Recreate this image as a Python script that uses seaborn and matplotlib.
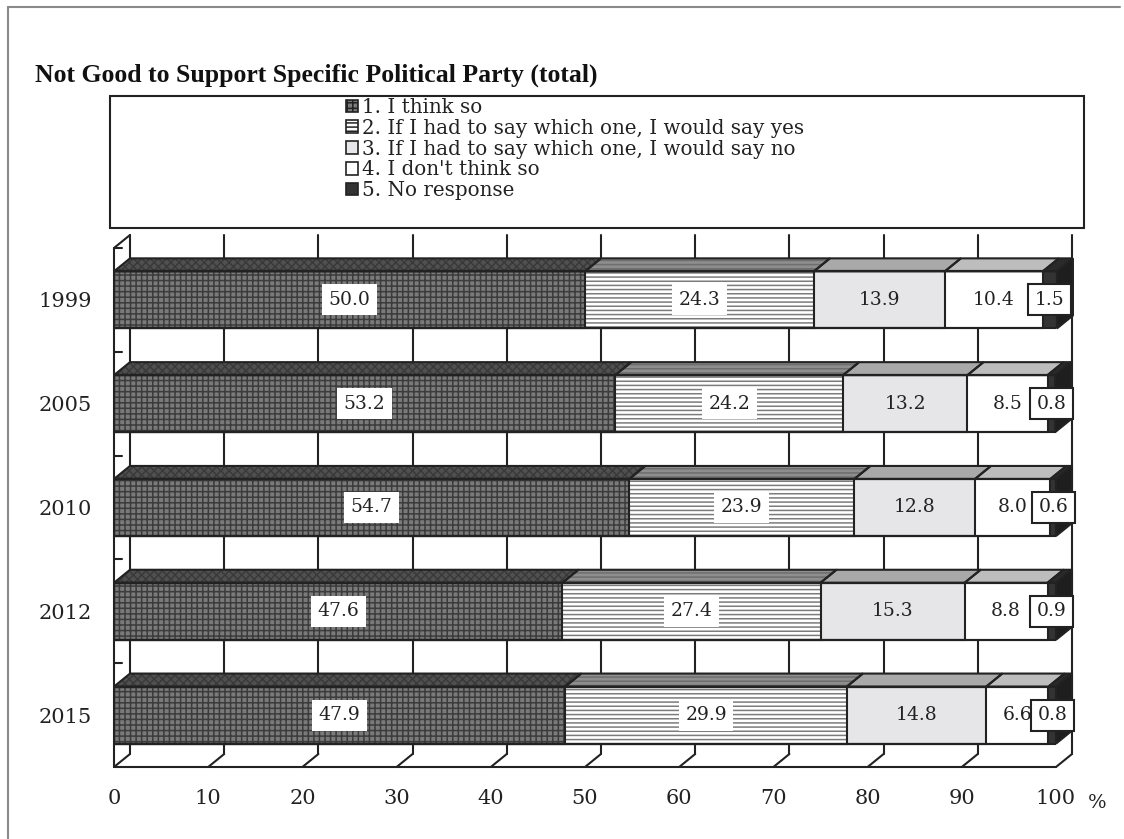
import numpy as np
import pandas as pd
import seaborn as sns
import matplotlib.pyplot as plt
from matplotlib.patches import Polygon, Rectangle, Patch
from matplotlib.lines import Line2D

# data (percent)
years = ['1999', '2005', '2010', '2012', '2015']
think_so = [50.0, 53.2, 54.7, 47.6, 47.9]
rather_yes = [24.3, 24.2, 23.9, 27.4, 29.9]
rather_no = [13.9, 13.2, 12.8, 15.3, 14.8]
dont_think = [10.4, 8.5, 8.0, 8.8, 6.6]
no_response = [1.5, 0.8, 0.6, 0.9, 0.8]
labels = ['1. I think so',
          '2. If I had to say which one, I would say yes',
          '3. If I had to say which one, I would say no',
          "4. I don't think so",
          '5. No response']
title = 'Not Good to Support Specific Political Party (total)'

sns.set_theme(style='white')
plt.rcParams['font.family'] = ['DejaVu Serif']
plt.rcParams['hatch.linewidth'] = 1.1

W, H = 1124, 839
fig = plt.figure(figsize=(W / 100, H / 100), dpi=100)
ax = fig.add_axes([114 / W, 1 - 767 / H, (1056 - 114) / W, (767 - 248) / H])

series = [think_so, rather_yes, rather_no, dont_think, no_response]
cum = np.cumsum(np.array(series), axis=0)
start = np.vstack([np.zeros(len(years)), cum[:-1]])

# front face: fill, hatch, hatch colour ; top face: fill, hatch, hatch colour
front = [('#7a7a7a', '+++', '#3c3c3c'),
         ('#ffffff', '----', '#7c7c7c'),
         ('#e6e6e8', '', '#e6e6e8'),
         ('#ffffff', '', '#ffffff'),
         ('#333333', '', '#333333')]
top = [('#505050', 'xxxx', '#3a3a3a'),
       ('#8e8e8e', '----', '#6e6e6e'),
       ('#a9a9a9', '', '#a9a9a9'),
       ('#bdbdbd', '', '#bdbdbd'),
       ('#2a2a2a', '', '#2a2a2a')]
line_c = '#222222'
bar_w = 0.55
dx, dy = 16 / 9.42, 13 / 103.8  # depth of the 3d effect in data units

# front faces, drawn as overlapping cumulative bars
for i in reversed(range(len(series))):
    d = pd.DataFrame({'year': years, 'value': cum[i]})
    fc, h, hc = front[i]
    sns.barplot(data=d, x='value', y='year', order=years, orient='h',
                color=fc, saturation=1, width=bar_w, hatch=h, edgecolor=hc,
                linewidth=0, ax=ax, zorder=2)

for p in list(ax.patches):
    ax.add_patch(Rectangle(p.get_xy(), p.get_width(), p.get_height(),
                           fill=False, ec=line_c, lw=1.5, zorder=3))

# top faces and right side
for j in range(len(years)):
    yt = j - bar_w / 2
    yb = j + bar_w / 2
    for i in range(len(series)):
        x0, x1 = start[i][j], cum[i][j]
        pts = [(x0, yt), (x1, yt), (x1 + dx, yt - dy), (x0 + dx, yt - dy)]
        fc, h, hc = top[i]
        ax.add_patch(Polygon(pts, fc=fc, hatch=h, ec=hc, lw=0, zorder=2, clip_on=False))
        ax.add_patch(Polygon(pts, fill=False, ec=line_c, lw=1.5, zorder=3, clip_on=False))
    x1 = cum[-1][j]
    side = [(x1, yt), (x1 + dx, yt - dy), (x1 + dx, yb - dy), (x1, yb)]
    ax.add_patch(Polygon(side, fc='#1e1e1e', ec=line_c, lw=1.5, zorder=3, clip_on=False))

# walls and floor
ticks = np.arange(0, 101, 10)
for t in ticks:
    ax.plot([t + dx, t + dx], [-0.5 - dy, 4.5 - dy], color=line_c, lw=1.5, zorder=1, clip_on=False)
    ax.plot([t, t + dx], [4.5, 4.5 - dy], color=line_c, lw=1.5, zorder=1, clip_on=False)
ax.plot([0, 100], [4.5, 4.5], color=line_c, lw=1.5, zorder=1, clip_on=False)
ax.plot([0, 0], [-0.5, 4.5], color=line_c, lw=1.5, zorder=1, clip_on=False)
ax.plot([0, dx], [-0.5, -0.5 - dy], color=line_c, lw=1.5, zorder=1, clip_on=False)
for k in range(len(years)):
    ax.plot([0, 0.85], [k - 0.5, k - 0.5], color=line_c, lw=1.5, zorder=1, clip_on=False)

# value labels
for j in range(len(years)):
    for i in range(len(series)):
        xc = (start[i][j] + cum[i][j]) / 2
        if i < 2:
            bb = dict(boxstyle='square,pad=0.35', fc='white', ec='none')
        elif i == 4:
            bb = dict(boxstyle='square,pad=0.35', fc='white', ec=line_c, lw=1.5)
        else:
            bb = None
        ax.text(xc, j, f'{series[i][j]:.1f}', ha='center', va='center',
                fontsize=13.5, color='#222222', bbox=bb, zorder=6, clip_on=False)

ax.set_xlim(0, 100)
ax.set_ylim(4.5, -0.5)
ax.set_xticks(ticks)
ax.set_xticklabels([str(t) for t in ticks])
ax.set_xlabel('')
ax.set_ylabel('')
ax.tick_params(axis='both', length=0, labelsize=15, colors='#222222')
ax.tick_params(axis='x', pad=16)
ax.tick_params(axis='y', pad=16)
for s in ax.spines.values():
    s.set_visible(False)
ax.set_facecolor('none')

fig.text(1097 / W, 1 - 803 / H, '%', fontsize=14, ha='center', va='center', color='#222222')

# legend box
fig.patches.append(Rectangle((110 / W, 1 - 228 / H), 974 / W, 132 / H,
                             transform=fig.transFigure, fill=False, ec=line_c, lw=1.5))
handles = [Patch(fc=front[i][0], hatch=front[i][1], ec=line_c, lw=1.2) for i in range(len(series))]
fig.legend(handles, labels, loc='upper left', bbox_to_anchor=(346 / W, 1 - 98 / H),
           frameon=False, fontsize=14.3, handlelength=0.6, handleheight=0.6,
           handletextpad=0.2, labelspacing=0.09, borderpad=0, borderaxespad=0,
           labelcolor='#222222')

fig.text(35 / W, 1 - 75 / H, title, fontfamily='Liberation Serif', fontweight='bold',
         fontsize=18.5, va='center', color='#111111')

# outer frame
fig.add_artist(Line2D([8 / W, 8 / W], [0, 1 - 7 / H], color='#8a8a8a', lw=1.5))
fig.add_artist(Line2D([8 / W, 1120 / W], [1 - 7 / H, 1 - 7 / H], color='#8a8a8a', lw=1.5))

fig.savefig('out.png', dpi=100, facecolor='white')
